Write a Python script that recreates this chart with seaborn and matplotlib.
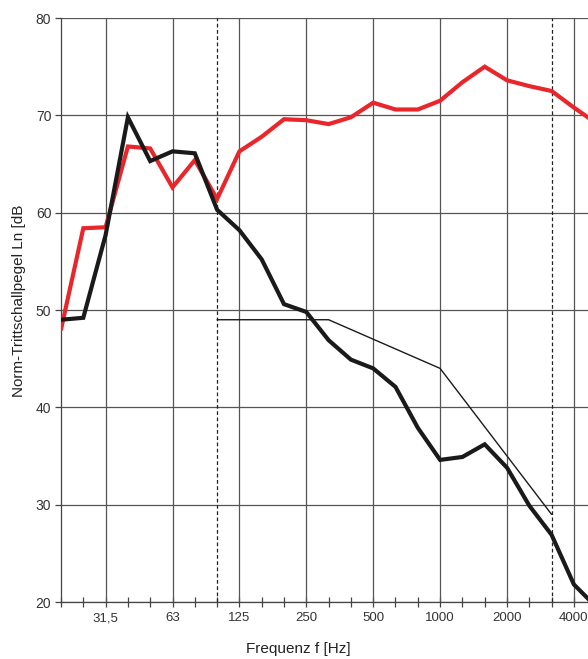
import numpy as np
import pandas as pd
import matplotlib
matplotlib.use("Agg")
import matplotlib.pyplot as plt
import seaborn as sns

# Third-octave band centre frequencies (Hz)
bands = [20, 25, 31.5, 40, 50, 63, 80, 100, 125, 160, 200, 250, 315, 400,
         500, 630, 800, 1000, 1250, 1600, 2000, 2500, 3150, 4000, 5000]

# Normalised impact sound pressure level, two measurements (dB)
ln_red = [48.0, 58.4, 58.5, 66.8, 66.6, 62.6, 65.4, 61.4, 66.3, 67.8, 69.6,
          69.5, 69.1, 69.8, 71.3, 70.6, 70.6, 71.5, 73.4, 75.0, 73.6, 73.0,
          72.5, 70.8, 69.2]
ln_black = [49.0, 49.2, 57.7, 69.8, 65.3, 66.3, 66.1, 60.3, 58.2, 55.2, 50.6,
            49.8, 46.9, 44.9, 44.0, 42.1, 37.9, 34.6, 34.9, 36.2, 33.8, 29.9,
            26.9, 21.8, 19.5]

# Shifted reference curve, 100 Hz .. 3150 Hz
ref_bands = [100, 125, 160, 200, 250, 315, 400, 500, 630, 800, 1000, 1250,
             1600, 2000, 2500, 3150]
ref_values = [49, 49, 49, 49, 49, 49, 48, 47, 46, 45, 44, 41, 38, 35, 32, 29]

# Labelled bands on the frequency axis
tick_bands = [31.5, 63, 125, 250, 500, 1000, 2000, 4000]
tick_labels = ["31,5", "63", "125", "250", "500", "1000", "2000", "4000"]
range_limits = [100, 3150]

pos = {f: i for i, f in enumerate(bands)}

df = pd.DataFrame({
    "pos": [pos[f] for f in bands] * 2,
    "Ln": ln_red + ln_black,
    "series": ["rot"] * len(bands) + ["schwarz"] * len(bands),
})
df_ref = pd.DataFrame({"pos": [pos[f] for f in ref_bands], "Ln": ref_values})

sns.set_style("white")
plt.rcParams["font.family"] = ["Liberation Sans", "DejaVu Sans"]

fig = plt.figure(figsize=(5.88, 6.59), dpi=100)
ax = fig.add_axes([61 / 588, 1 - 602 / 659, 1 - 61 / 588, (602 - 18) / 659])

grid_kw = dict(color="#555555", lw=0.9, zorder=1)
for y in range(20, 81, 10):
    ax.axhline(y, **grid_kw)
for f in tick_bands:
    ax.axvline(pos[f], **grid_kw)
for f in range_limits:
    ax.axvline(pos[f], color="#222222", lw=0.9, ls=(0, (3, 2)), zorder=1.5)

sns.lineplot(data=df_ref, x="pos", y="Ln", color="#1a1a1a", lw=1.0, ax=ax,
             zorder=3)
sns.lineplot(data=df, x="pos", y="Ln", hue="series",
             palette={"rot": "#e8262b", "schwarz": "#1a1a1a"},
             lw=3.0, ax=ax, legend=False, zorder=4)
for line in ax.lines[-2:]:
    line.set_solid_joinstyle("miter")

ax.set_xticks([pos[f] for f in tick_bands])
ax.set_xticklabels(tick_labels)
ax.set_xticks(range(len(bands)), minor=True)
ax.set_yticks(range(20, 81, 10))

# limits last, so tick placement cannot widen them
ax.set_xlim(0, (588 - 61) / 22.3)
ax.set_ylim(20, 80)

ax.tick_params(axis="x", which="both", direction="inout", length=7,
               width=0.9, color="#444444", bottom=True, pad=4,
               labelsize=9.5, labelcolor="#333333")
ax.tick_params(axis="y", direction="out", length=4, width=0.9,
               color="#444444", left=True, pad=3, labelsize=10,
               labelcolor="#333333")

for side in ("top", "right"):
    ax.spines[side].set_visible(False)
for side in ("left", "bottom"):
    ax.spines[side].set_color("#444444")
    ax.spines[side].set_linewidth(0.9)

ax.set_xlabel("Frequenz f [Hz]", fontsize=11, color="#222222")
ax.xaxis.set_label_coords((298 - 61) / 527, -0.068)
ax.set_ylabel("Norm-Trittschallpegel Ln [dB", fontsize=11, color="#222222")
ax.yaxis.set_label_coords(-(61 - 26) / 527, 0.515)

fig.savefig("out.png", dpi=100)
